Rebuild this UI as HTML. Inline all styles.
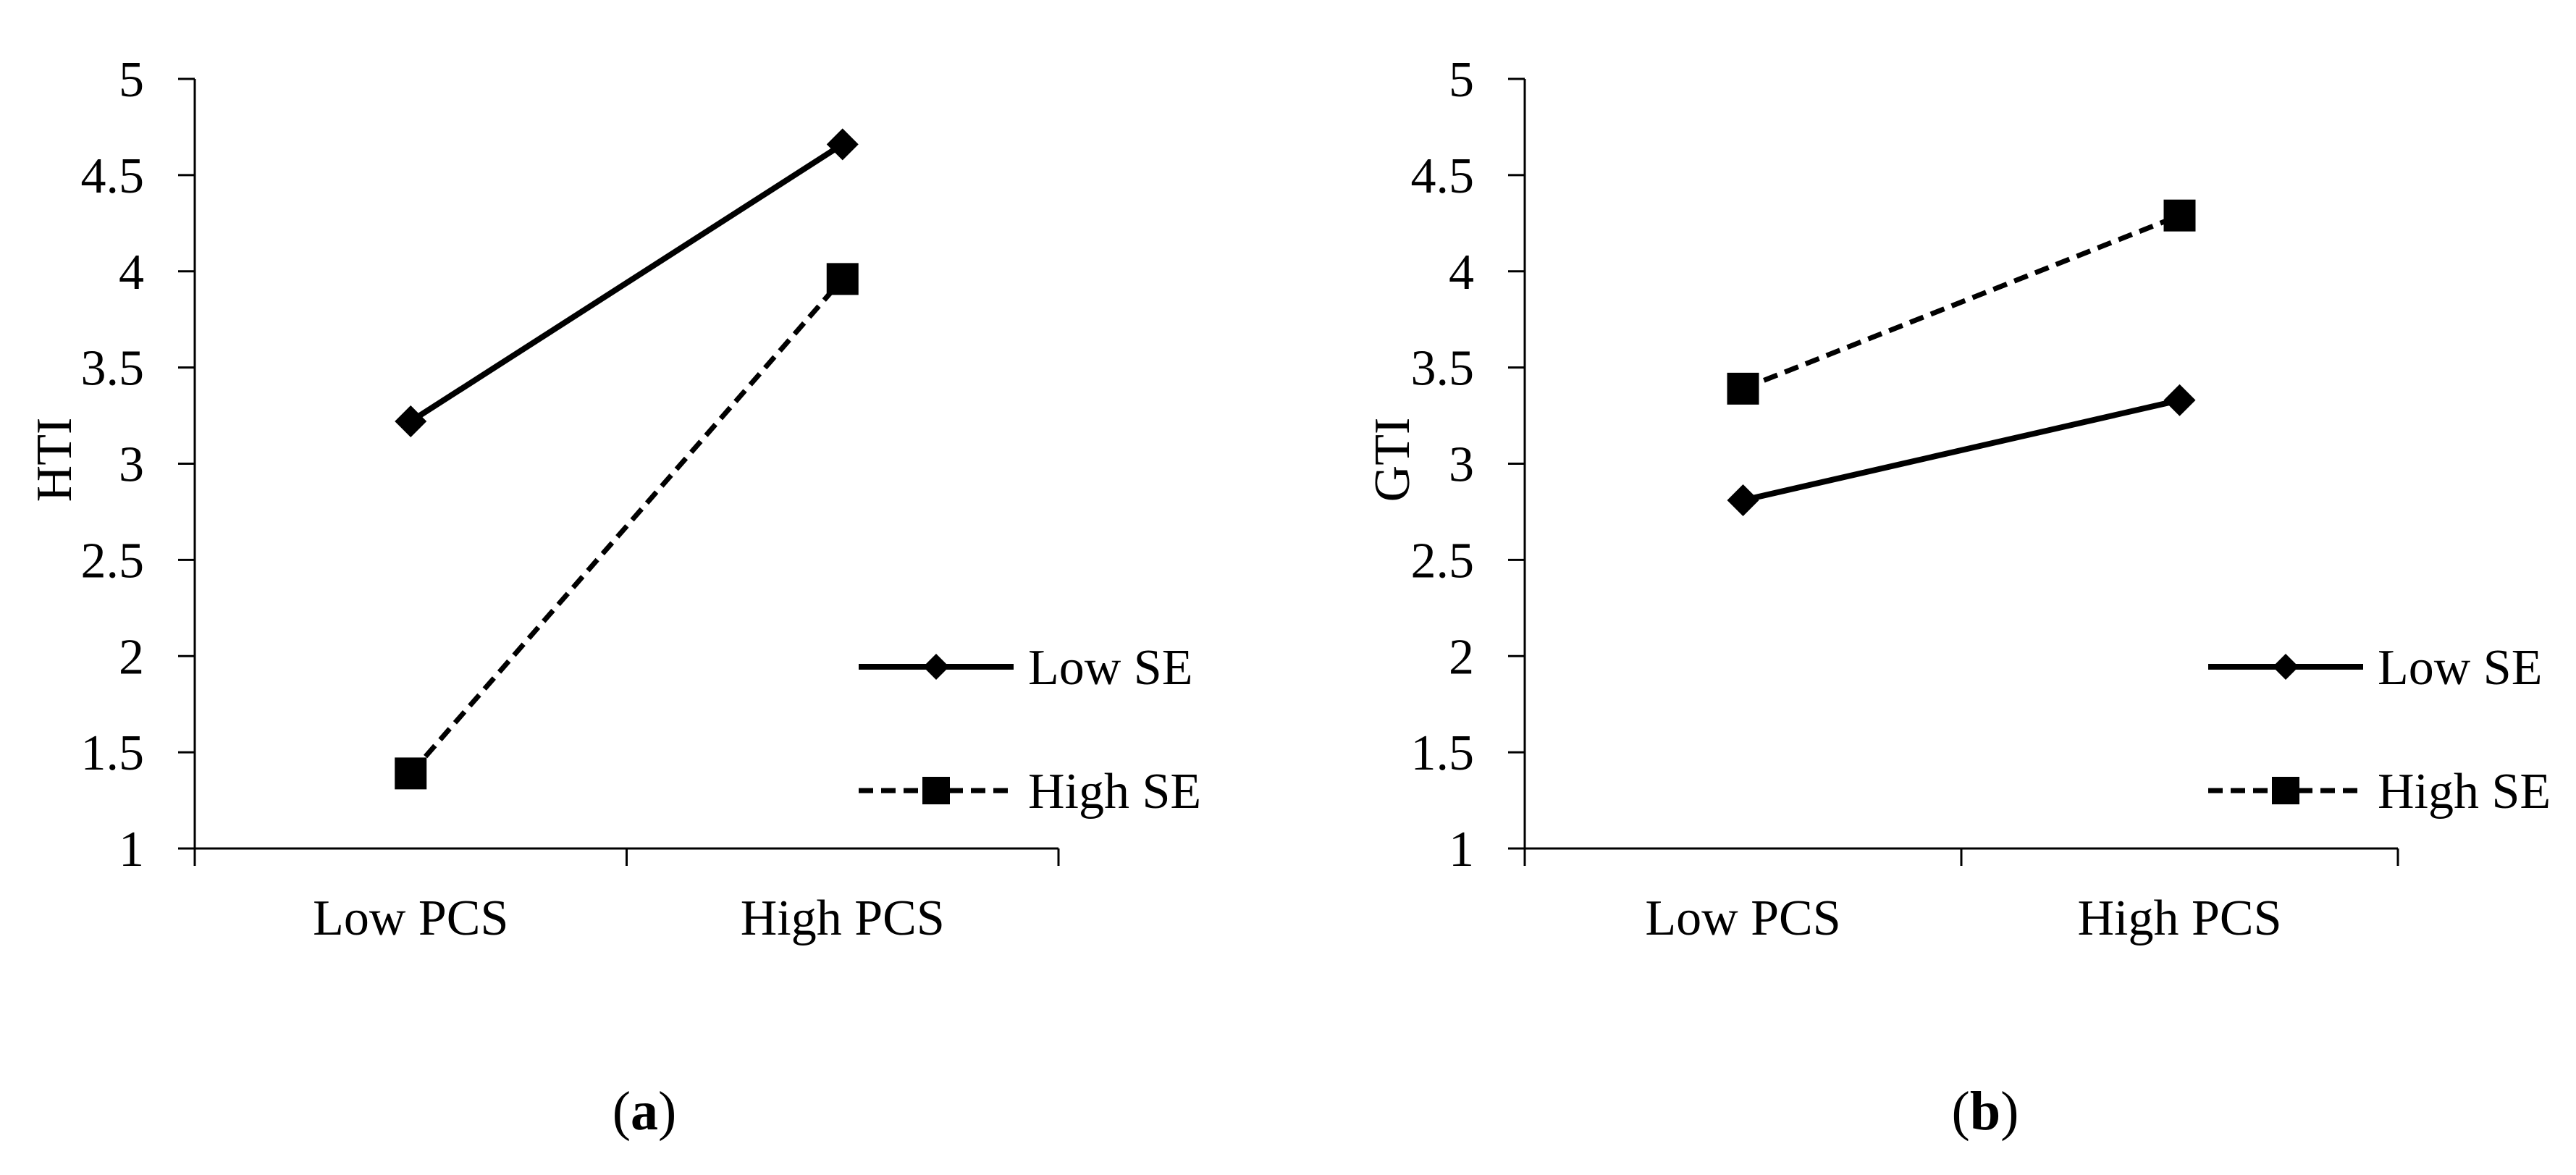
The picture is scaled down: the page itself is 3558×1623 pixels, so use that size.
<!DOCTYPE html>
<html><head><meta charset="utf-8"><style>
html,body{margin:0;padding:0;background:#fff;}
svg{display:block;}
text{font-family:"Liberation Serif",serif;fill:#000;}
</style></head><body>
<svg id="fig" width="3558" height="1623" viewBox="0 0 3558 1623" xmlns="http://www.w3.org/2000/svg"></svg>
<script>
const categories = ["Low PCS", "High PCS"];
const yTicks = [1, 1.5, 2, 2.5, 3, 3.5, 4, 4.5, 5];
const yTickLabels = ["1", "1.5", "2", "2.5", "3", "3.5", "4", "4.5", "5"];
const seriesNames = ["Low SE", "High SE"];
const htiLowSE = [3.22, 4.66];
const htiHighSE = [1.39, 3.96];
const gtiLowSE = [2.81, 3.33];
const gtiHighSE = [3.39, 4.29];

const NS = "http://www.w3.org/2000/svg";
const svg = document.getElementById("fig");
function mk(tag, attrs, parent) {
  const e = document.createElementNS(NS, tag);
  for (const k in attrs) e.setAttribute(k, attrs[k]);
  (parent || svg).appendChild(e);
  return e;
}

function panel(cfg) {
  const g = mk("g", {});
  
  
  const x0 = cfg.x0, x1 = cfg.x1, yTop = 109, yBot = 1172;
  const yMin = 1, yMax = 5;
  const ys = v => yBot - (v - yMin) / (yMax - yMin) * (yBot - yTop);
  const bw = (x1 - x0) / categories.length;
  const xs = i => x0 + bw * (i + 0.5);

  const ya = mk("line", {x1: x0, y1: yTop, x2: x0, y2: yBot, stroke: "#000", "stroke-width": 3}, g);
  
  
  yTicks.forEach((t, i) => {
    const y = ys(t);
    const tk = mk("line", {x1: x0 - 23, y1: y, x2: x0, y2: y, stroke: "#000", "stroke-width": 3}, g);
    
    
    const lb = mk("text", {x: x0 - 70, y: y + 24, "text-anchor": "end", "font-size": 70}, g);
    
    
    lb.textContent = yTickLabels[i];
  });
  const xa = mk("line", {x1: x0, y1: yBot, x2: x1, y2: yBot, stroke: "#000", "stroke-width": 3}, g);
  
  
  for (let i = 0; i <= categories.length; i++) {
    const x = x0 + bw * i;
    const tk = mk("line", {x1: x, y1: yBot, x2: x, y2: yBot + 24, stroke: "#000", "stroke-width": 3}, g);
    
    
  }
  categories.forEach((c, i) => {
    const lb = mk("text", {x: xs(i), y: 1291, "text-anchor": "middle", "font-size": 70}, g);
    
    
    lb.textContent = c;
  });
  const yt = mk("text", {x: 0, y: 0, "text-anchor": "middle", "font-size": 70, transform: `translate(${cfg.titleX},635) rotate(-90)`}, g);
  
  
  yt.textContent = cfg.title;

  const diamond = (cx, cy, r, parent) => mk("polygon", {points: `${cx},${cy - r} ${cx + r},${cy} ${cx},${cy + r} ${cx - r},${cy}`, fill: "#000"}, parent);
  const square = (cx, cy, s, parent) => mk("rect", {x: cx - s / 2, y: cy - s / 2, width: s, height: s, fill: "#000"}, parent);

  const lowLine = mk("polyline", {points: cfg.low.map((v, i) => `${xs(i)},${ys(v)}`).join(" "), fill: "none", stroke: "#000", "stroke-width": 8}, g);
  
  
  const highLine = mk("polyline", {points: cfg.high.map((v, i) => `${xs(i)},${ys(v)}`).join(" "), fill: "none", stroke: "#000", "stroke-width": 7, "stroke-dasharray": "20 11"}, g);
  
  
  cfg.low.forEach((v, i) => {
    const m = diamond(xs(i), ys(v), 22, g);
    
    
  });
  cfg.high.forEach((v, i) => {
    const m = square(xs(i), ys(v), 44, g);
    
    
  });

  const L = cfg.leg;
  const e1 = mk("g", {}, g);
  
  
  mk("line", {x1: L.x, y1: 921, x2: L.x + 214, y2: 921, stroke: "#000", "stroke-width": 8}, e1);
  diamond(L.x + 107, 921, 18, e1);
  const t1 = mk("text", {x: L.x + 234, y: 945, "font-size": 70}, e1);
  t1.textContent = seriesNames[0];
  const e2 = mk("g", {}, g);
  
  
  mk("line", {x1: L.x, y1: 1092, x2: L.x + 214, y2: 1092, stroke: "#000", "stroke-width": 7, "stroke-dasharray": "20 11"}, e2);
  square(L.x + 107, 1092, 38, e2);
  const t2 = mk("text", {x: L.x + 234, y: 1116, "font-size": 70}, e2);
  t2.textContent = seriesNames[1];

  const cap = mk("text", {x: cfg.capX, y: 1560, "text-anchor": "middle", "font-size": 76}, g);
  
  
  const p1 = mk("tspan", {}, cap); p1.textContent = "(";
  const p2 = mk("tspan", {"font-weight": "bold"}, cap); p2.textContent = cfg.letter;
  const p3 = mk("tspan", {}, cap); p3.textContent = ")";
}

panel({name: "panel-a-hti-chart", x0: 269, x1: 1462, title: "HTI", titleX: 98, low: htiLowSE, high: htiHighSE, leg: {x: 1186}, capX: 890, letter: "a"});
panel({name: "panel-b-gti-chart", x0: 2106, x1: 3312, title: "GTI", titleX: 1946, low: gtiLowSE, high: gtiHighSE, leg: {x: 3050}, capX: 2742, letter: "b"});
</script>
</body></html>
